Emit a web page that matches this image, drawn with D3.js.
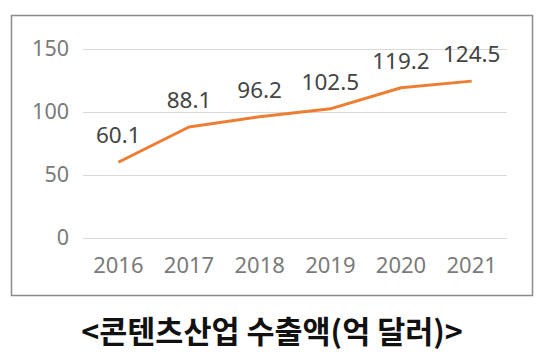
<!DOCTYPE html>
<html><head><meta charset="utf-8">
<script src="https://cdn.jsdelivr.net/npm/d3@7"></script>
<style>html,body{margin:0;padding:0;background:#fff;}</style>
</head><body>
<svg id="c" width="540" height="360"></svg>
<script>
const years = ["2016","2017","2018","2019","2020","2021"];
const values = [60.1, 88.1, 96.2, 102.5, 119.2, 124.5];
const yTicks = [0, 50, 100, 150];
const title = "<콘텐츠산업 수출액(억 달러)>";

const svg = d3.select("#c");
const numFont = "'Noto Sans','Open Sans',sans-serif";
const krFont = "'Noto Sans CJK KR','Noto Sans',sans-serif";

svg.append("rect").attr("x",11.5).attr("y",15.5).attr("width",521).attr("height",280)
  .attr("fill","#fff").attr("stroke","#8a8a8a").attr("stroke-width",1.5);

const x = d3.scaleBand().domain(years).range([83,507]);
const y = d3.scaleLinear().domain([0,150]).range([238,49]);

const yAxis = svg.append("g").attr("transform","translate(83,0)")
  .call(d3.axisLeft(y).tickValues(yTicks).tickSize(-424).tickPadding(14));
yAxis.select(".domain").remove();
yAxis.selectAll(".tick line").attr("stroke","#d9d9d9").attr("stroke-width",1.2);
yAxis.selectAll(".tick text").attr("fill","#7a7a7a").style("font-family",numFont).style("font-size","21.5px");

const xAxis = svg.append("g").attr("transform","translate(0,238)")
  .call(d3.axisBottom(x).tickSize(0));
xAxis.select(".domain").remove();
xAxis.selectAll(".tick text").attr("fill","#7a7a7a").attr("y",35).attr("dy","0")
  .style("font-family",numFont).style("font-size","22px");

const pts = years.map((yr,i)=>[x(yr)+x.bandwidth()/2, y(values[i])]);
svg.append("path").attr("d", d3.line()(pts)).attr("fill","none")
  .attr("stroke","#ED7D31").attr("stroke-width",3).attr("stroke-linejoin","round");

svg.selectAll(".lbl").data(values).join("text").attr("class","lbl")
  .attr("x",(d,i)=>x(years[i])+x.bandwidth()/2)
  .attr("y",d=>y(d)-19)
  .attr("text-anchor","middle").attr("fill","#444")
  .style("font-family",numFont).style("font-size","22.5px").text(d=>d.toFixed(1));

svg.append("text").attr("x",272).attr("y",343).attr("text-anchor","middle")
  .attr("fill","#111").style("font-family",krFont).style("font-weight","bold").style("font-size","30.5px")
  .text(title);
</script>
</body></html>
